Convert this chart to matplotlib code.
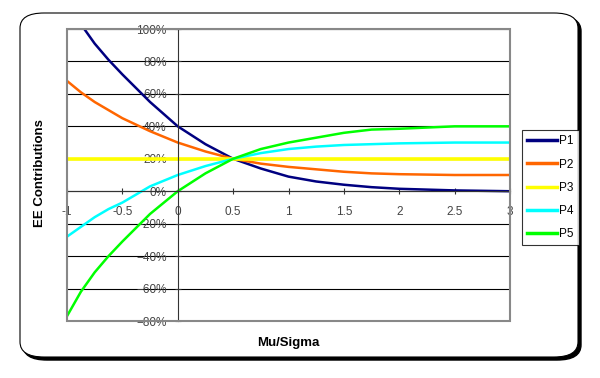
import numpy as np
import matplotlib.pyplot as plt
from matplotlib.patches import FancyBboxPatch, Rectangle
from matplotlib.ticker import PercentFormatter

plt.rcParams['font.family'] = ['Liberation Sans', 'DejaVu Sans']

# Mu/Sigma values and the five contribution curves (in %)
mu_sigma = [-1, -0.875, -0.75, -0.625, -0.5, -0.25, 0, 0.25, 0.5, 0.75, 1, 1.25, 1.5,
            1.75, 2, 2.5, 3]
p1 = [114, 103, 91, 81, 72, 55, 40, 29, 20, 14, 9, 6, 4, 2.5, 1.5, 0.5, 0]
p2 = [68, 61, 55, 50, 45, 37, 30, 24.5, 20, 17, 15, 13.5, 12, 11, 10.5, 10, 10]
p3 = [20, 20, 20, 20, 20, 20, 20, 20, 20, 20, 20, 20, 20, 20, 20, 20, 20]
p4 = [-28, -22, -16, -11, -7, 3, 10, 15.5, 20, 23.5, 26, 27.5, 28.5, 29, 29.5, 30, 30]
p5 = [-77, -62, -50, -40, -31, -14, 0, 11, 20, 26, 30, 33, 36, 38, 38.5, 40, 40]
series = [('P1', p1, '#000080'), ('P2', p2, '#FF6600'), ('P3', p3, '#FFFF00'),
          ('P4', p4, '#00FFFF'), ('P5', p5, '#00FF00')]
y_ticks = [-80, -60, -40, -20, 0, 20, 40, 60, 80, 100]

fig = plt.figure(figsize=(6, 3.78), dpi=100)

# outer rounded frame with a dark shadow
shadow = FancyBboxPatch((20 / 600 + 0.005, 21 / 378 - 0.008), 558 / 600, 344 / 378,
                        boxstyle='round,pad=0,rounding_size=0.04', transform=fig.transFigure,
                        facecolor='black', edgecolor='black', zorder=-2)
frame = FancyBboxPatch((20 / 600, 21 / 378), 558 / 600, 344 / 378,
                       boxstyle='round,pad=0,rounding_size=0.04', transform=fig.transFigure,
                       facecolor='white', edgecolor='black', linewidth=0.8, zorder=-1)
fig.patches.extend([shadow, frame])

ax = fig.add_axes([67 / 600, 1 - 321 / 378, 443 / 600, 292 / 378])
ax.set_facecolor('none')

# gridlines under the curves, tick labels above them
for yv in y_ticks:
    ax.axhline(yv, color='black', linewidth=0.8, zorder=1)

x = np.array(mu_sigma)
for name, vals, color in series:
    lw = 2.6 if name == 'P3' else 1.8
    ax.plot(x, vals, color=color, linewidth=lw, label=name, zorder=2)

ax.set_xlim(-1, 3)
ax.set_ylim(-80, 100)
ax.set_yticks(y_ticks)
ax.set_xticks([-1, -0.5, 0, 0.5, 1, 1.5, 2, 2.5, 3])
ax.set_xticklabels(['-1', '-0.5', '0', '0.5', '1', '1.5', '2', '2.5', '3'])
ax.yaxis.set_major_formatter(PercentFormatter(decimals=0))

ax.spines['left'].set_position(('data', 0))
ax.spines['bottom'].set_position(('data', 0))
ax.spines['top'].set_visible(False)
ax.spines['right'].set_visible(False)
for s in ('left', 'bottom'):
    ax.spines[s].set_color('#333333')
    ax.spines[s].set_linewidth(0.8)
ax.tick_params(direction='inout', length=4, width=0.8, labelsize=8.5,
               labelcolor='#444444', colors='#333333')
ax.tick_params(axis='x', pad=9)
ax.tick_params(axis='y', pad=6)

ax.add_patch(Rectangle((0, 0), 1, 1, transform=ax.transAxes, fill=False,
                       edgecolor='#888888', linewidth=1.5, zorder=4, clip_on=False))

fig.text(40 / 600, 1 - 173 / 378, 'EE Contributions', rotation=90, ha='center',
         va='center', fontsize=9.5, fontweight='bold')
fig.text(288 / 600, 1 - 343 / 378, 'Mu/Sigma', ha='center', va='center',
         fontsize=9.5, fontweight='bold')

leg = ax.legend(loc='upper left', bbox_to_anchor=(522 / 600, 1 - 130 / 378),
                bbox_transform=fig.transFigure, fontsize=8.5, frameon=True,
                fancybox=False, edgecolor='black', handlelength=2.5,
                labelspacing=0.95, borderpad=0.45, handletextpad=0.2,
                borderaxespad=0)
leg.get_frame().set_linewidth(0.8)
for line in leg.get_lines():
    line.set_linewidth(2.5)

fig.savefig('out.png', dpi=100)
